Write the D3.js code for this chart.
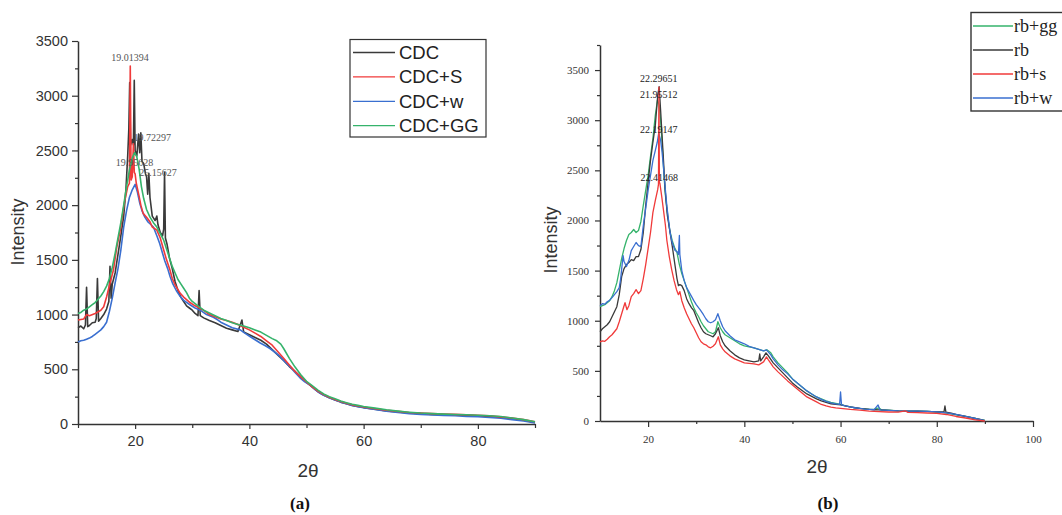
<!DOCTYPE html>
<html><head><meta charset="utf-8">
<script src="https://cdn.jsdelivr.net/npm/d3@7"></script>
<style>body{margin:0;background:#fff}svg{display:block}</style>
</head><body><svg id="c" width="1062" height="515"></svg>
<script>
// ---------- Panel (a) data: [2theta, intensity] ----------
const aNames = ["CDC","CDC+S","CDC+w","CDC+GG"];
const aColors = ["#3a3a3a","#f03a3a","#3a6fd0","#35b36b"];
const aCDC = [[10,880],[10.5,895],[11,870],[11.3,905],[11.5,1250],[11.7,890],[12,900],[12.5,925],[13,930],[13.2,965],[13.4,1330],[13.6,940],[14,965],[14.5,1000],[15,1050],[15.4,1120],[15.6,1440],[15.8,1150],[16,1280],[16.5,1380],[17,1550],[17.5,1720],[18,1900],[18.4,2150],[18.7,2450],[18.9,2700],[19.05,3120],[19.2,2550],[19.5,2600],[19.7,2550],[19.85,3140],[20,2500],[20.3,2450],[20.6,2650],[20.8,2480],[21,2660],[21.2,2400],[21.5,2380],[21.8,2290],[22,2260],[22.2,2100],[22.4,2290],[22.6,2070],[23,1900],[23.5,1860],[23.8,1900],[24,1820],[24.4,1750],[24.8,1720],[25,1780],[25.15,2300],[25.3,1700],[25.6,1640],[26,1520],[26.5,1420],[27,1300],[27.5,1220],[28,1160],[28.5,1120],[29,1080],[29.5,1060],[30,1040],[30.5,1010],[31,990],[31.2,1220],[31.4,990],[32,970],[33,945],[34,925],[35,900],[36,875],[37,860],[38,845],[38.7,950],[39,840],[40,815],[41,790],[42,765],[43,730],[44,680],[45,630],[46,580],[47,525],[48,480],[49,430],[50,380],[51,340],[52,295],[53,265],[54,240],[55,220],[56,200],[57,185],[58,170],[59,160],[60,150],[62,135],[64,120],[66,110],[68,100],[70,95],[72,88],[74,85],[76,82],[78,78],[80,75],[82,70],[84,62],[86,50],[88,35],[90,15]];
const aS = [[10,950],[11,960],[11.5,1000],[12,990],[13,1010],[14,1040],[14.5,1072],[15,1160],[15.6,1286],[16.2,1407],[16.8,1620],[17.4,1773],[18.1,2016],[18.7,2169],[19,2200],[19.15,3272],[19.3,2230],[19.5,2260],[19.7,2560],[19.85,2300],[20,2285],[20.2,2200],[20.7,2080],[21,2000],[21.4,1925],[22,1890],[22.6,1848],[23,1800],[23.8,1772],[24.4,1700],[25,1590],[25.5,1500],[26.1,1407],[26.5,1330],[27,1270],[27.9,1194],[28.5,1160],[29.6,1110],[30.5,1080],[31.9,1042],[33,1000],[34,980],[35,960],[36,945],[37,930],[38,910],[39,885],[40,860],[41,830],[42,800],[43,760],[44,720],[45,660],[46,600],[47,540],[48,480],[49,430],[50,385],[51,340],[52,300],[53,270],[54,245],[55,225],[56,205],[57,190],[58,175],[59,165],[60,155],[62,140],[64,125],[66,115],[68,105],[70,100],[72,95],[74,92],[76,88],[78,85],[80,80],[82,75],[84,65],[86,55],[88,40],[90,20]];
const aW = [[10,750],[10.5,760],[11,765],[11.5,775],[12,785],[12.5,800],[13,820],[13.5,840],[14,860],[14.5,890],[15,930],[15.5,1030],[16,1150],[16.5,1290],[17,1420],[17.5,1590],[18,1800],[18.5,1950],[19,2070],[19.5,2140],[20,2190],[20.4,2120],[20.8,2020],[21.2,1950],[21.7,1890],[22.2,1850],[22.6,1830],[23.2,1800],[23.8,1720],[24.3,1650],[24.8,1560],[25.2,1490],[25.7,1420],[26.1,1350],[26.6,1280],[27.2,1220],[27.9,1165],[28.5,1130],[29.6,1090],[30.5,1060],[31.4,1040],[32.5,1000],[33.7,975],[34.5,950],[35,930],[36,905],[37,880],[38.4,860],[39.2,830],[40.1,800],[41,770],[41.9,740],[42.8,715],[43.6,690],[44.5,655],[45.4,615],[46.2,570],[47.1,525],[48,470],[48.9,420],[49.7,385],[50.6,355],[51.5,315],[52.4,280],[53,262],[54,240],[55,220],[56,200],[57,185],[58,170],[59,158],[60,148],[62,132],[64,118],[66,105],[68,95],[70,88],[72,82],[74,78],[76,75],[78,70],[80,66],[82,60],[84,52],[86,40],[88,28],[90,10]];
const aGG = [[10,1010],[10.5,1020],[11,1040],[11.5,1050],[12,1070],[12.5,1090],[13,1110],[13.5,1140],[14,1170],[14.5,1210],[15,1260],[15.5,1330],[16,1430],[16.5,1560],[17,1700],[17.5,1840],[18,2000],[18.5,2170],[19,2320],[19.5,2430],[19.9,2480],[20.3,2440],[20.7,2330],[21.1,2170],[21.5,2060],[22,1960],[22.6,1890],[23.2,1840],[23.8,1800],[24.4,1740],[25,1680],[25.5,1600],[26,1520],[26.5,1440],[27,1380],[27.5,1320],[28,1280],[28.5,1240],[29,1200],[29.5,1150],[30,1120],[31,1080],[32,1040],[33,1015],[34,990],[35,965],[36,945],[37,925],[38,910],[39,895],[40,880],[41,860],[42,840],[43,810],[44,780],[44.8,760],[45.5,730],[46,690],[47,600],[48,520],[49,450],[50,390],[51,350],[52,310],[53,275],[54,250],[55,230],[56,210],[57,195],[58,180],[59,170],[60,160],[62,145],[64,130],[66,118],[68,108],[70,100],[72,95],[74,90],[76,87],[78,85],[80,80],[82,75],[84,68],[86,55],[88,40],[90,20]];
const aPeakLabels = ["19.01394","19.72297","19.95628","25.15627"];
const aPeakPos = [[19.1,3313],[23.0,2586],[19.9,2358],[24.0,2266]];
const aYTicks = [0,500,1000,1500,2000,2500,3000,3500];
const aXTicks = [20,40,60,80];

// ---------- Panel (b) data ----------
const bNames = ["rb+gg","rb","rb+s","rb+w"];
const bColors = ["#35b36b","#3a3a3a","#f03a3a","#3a6fd0"];
const bGG = [[10,1140],[11,1160],[12,1200],[12.5,1240],[13,1300],[13.5,1380],[14,1500],[14.5,1620],[15,1720],[15.5,1800],[16,1860],[16.5,1880],[17,1910],[17.5,1880],[18,1900],[18.5,1990],[19,2150],[19.5,2300],[20,2450],[20.5,2640],[21,2820],[21.5,3050],[21.95,3200],[22.3,3150],[22.6,3000],[23,2700],[23.3,2450],[23.6,2250],[24,2080],[24.5,1900],[25,1800],[25.5,1730],[26,1680],[26.5,1560],[27,1470],[27.5,1400],[28,1330],[28.5,1260],[29,1190],[29.5,1130],[30,1080],[30.5,1040],[31,990],[31.5,950],[32,920],[32.5,890],[33,880],[33.5,870],[34,890],[34.5,990],[35,930],[35.5,890],[36,860],[37,830],[38,800],[39,770],[40,750],[41,740],[42,730],[43,715],[44,700],[44.7,710],[45.5,680],[46,640],[47,580],[48,530],[49,480],[50,420],[51,380],[52,340],[53,300],[54,270],[55,240],[56,220],[57,200],[58,185],[59,175],[60,165],[61,150],[62,140],[63,130],[64,125],[65,120],[66,115],[67,118],[68,130],[68.5,112],[70,108],[72,100],[74,98],[76,97],[78,95],[80,90],[81,85],[82,78],[84,62],[86,45],[88,25],[90,5]];
const bRB = [[10,890],[10.5,920],[11,940],[11.5,960],[12,990],[12.5,1040],[13,1090],[13.5,1140],[14,1260],[14.5,1440],[15,1520],[15.5,1560],[16,1580],[16.5,1610],[17,1600],[17.5,1640],[18,1640],[18.5,1710],[19,1880],[19.5,2150],[20,2380],[20.5,2600],[21,2780],[21.5,2950],[22,3250],[22.3,3334],[22.6,3100],[22.9,2850],[23.2,2600],[23.5,2330],[24,2050],[24.6,1870],[25,1750],[25.6,1550],[26,1420],[26.3,1350],[26.6,1360],[27,1350],[27.5,1300],[28,1220],[28.5,1170],[29,1130],[29.5,1100],[30,1040],[30.5,980],[31,930],[31.5,890],[32,870],[33,850],[33.5,840],[34,870],[34.6,930],[35,850],[35.5,790],[36,750],[37,700],[38,660],[39,630],[40,610],[41,600],[42,590],[43,600],[43.2,670],[43.4,600],[44,640],[44.5,680],[45,650],[46,580],[47,530],[48,480],[49,430],[50,380],[51,340],[52,305],[53,270],[54,245],[55,220],[56,200],[57,185],[58,172],[59,165],[60,160],[61,150],[62,140],[63,132],[64,125],[65,120],[66,115],[67,112],[68,110],[70,105],[72,100],[74,98],[76,97],[78,95],[80,92],[81.5,90],[81.7,150],[81.9,88],[83,78],[84,65],[86,45],[88,25],[90,3]];
const bS = [[10,790],[10.5,800],[11,795],[11.5,815],[12,840],[12.5,860],[13,890],[13.5,920],[14,990],[14.5,1070],[15,1150],[15.2,1180],[15.6,1110],[16,1150],[16.5,1240],[17,1270],[17.5,1310],[18,1270],[18.5,1300],[19,1420],[19.5,1560],[20,1720],[20.5,1880],[21,2080],[21.5,2200],[22,2310],[22.15,2360],[22.25,3330],[22.35,2380],[22.45,2370],[22.8,2250],[23.2,2100],[23.6,1950],[23.9,1800],[24.4,1640],[24.9,1510],[25.4,1400],[25.9,1310],[26.3,1260],[26.6,1290],[27,1200],[27.5,1130],[28,1070],[28.5,1020],[29,970],[29.5,930],[30,880],[30.5,830],[31,790],[31.5,770],[32,760],[32.5,740],[33,730],[33.5,745],[34,770],[34.6,840],[35,760],[35.5,720],[36,690],[37,650],[38,620],[39,600],[40,580],[41,575],[42,570],[43,560],[43.5,575],[44,590],[44.6,640],[45,610],[46,540],[47,490],[48,445],[49,400],[50,360],[51,320],[52,280],[53,240],[54,215],[55,190],[56,165],[57,150],[58,138],[59,130],[60,125],[62,115],[64,108],[66,98],[68,93],[70,90],[72,88],[73.5,100],[74,86],[76,84],[78,80],[80,76],[82,65],[84,45],[86,30],[88,12],[90,0]];
const bW = [[10,1150],[10.5,1170],[11,1165],[11.5,1190],[12,1205],[12.5,1230],[13,1260],[13.5,1290],[14,1330],[14.3,1420],[14.6,1560],[14.8,1650],[15,1590],[15.5,1540],[16,1600],[16.5,1700],[17,1740],[17.5,1780],[18,1750],[18.5,1740],[19,1950],[19.5,2120],[20,2300],[20.5,2450],[21,2600],[21.5,2700],[21.9,2780],[22.2,2870],[22.6,2800],[22.9,2680],[23.2,2530],[23.6,2300],[23.9,2140],[24.3,1980],[24.6,1870],[25,1780],[25.6,1700],[26,1690],[26.3,1660],[26.5,1850],[26.6,1660],[27,1500],[27.5,1400],[28,1330],[28.7,1270],[29.5,1200],[30,1160],[30.8,1110],[31.5,1060],[32,1020],[32.5,990],[33,980],[33.5,990],[34,1010],[34.5,1070],[35,1000],[35.5,940],[36,900],[37,850],[38,810],[39,790],[40,770],[41,745],[42,730],[43,715],[44,700],[44.6,710],[45.5,660],[46,620],[47,560],[48,510],[49,470],[50,420],[51,380],[52,340],[53,300],[54,270],[55,240],[56,215],[57,195],[58,180],[59,170],[59.8,165],[60,290],[60.2,160],[61,150],[62,140],[63,132],[64,125],[65,118],[66,115],[67,112],[67.8,160],[68.2,110],[70,105],[72,100],[74,98],[76,98],[78,95],[80,92],[82,82],[84,65],[86,45],[88,25],[90,3]];
const bPeakLabels = ["22.29651","21.95512","22.19147","22.41468"];
const bPeakPos = [[22.2,3385],[22.2,3220],[22.2,2870],[22.3,2390]];
const bYTicks = [0,500,1000,1500,2000,2500,3000,3500];
const bXTicks = [20,40,60,80,100];

const svg = d3.select("#c");
const SANS = "'Liberation Sans', Arial, sans-serif";
const SERIF = "'Liberation Serif', 'Times New Roman', serif";
const AX = "#333";
const fmt = d3.format("d");

function range(a,b,s){const r=[];for(let v=a;v<=b+1e-9;v+=s)r.push(v);return r;}

// ---------- Panel (a) ----------
const xA = d3.scaleLinear().domain([10,90]).range([78,535]);
const yA = d3.scaleLinear().domain([0,3500]).range([424,41]);
const gA = svg.append("g");

function styleAxis(g, font, size){
  g.selectAll("path.domain").attr("stroke",AX).attr("stroke-width",1.5);
  g.selectAll(".tick line").attr("stroke",AX).attr("stroke-width",1.2);
  g.selectAll(".tick text").attr("fill","#333").style("font-family",font).style("font-size",size+"px");
}

gA.append("g").attr("transform","translate(78,0)")
  .call(d3.axisLeft(yA).tickValues(range(250,3250,500)).tickSize(3).tickFormat(""))
  .call(g=>{g.select(".domain").remove();g.selectAll(".tick line").attr("stroke",AX).attr("stroke-width",1.2);});
gA.append("g").attr("transform","translate(0,424)")
  .call(d3.axisBottom(xA).tickValues([10,30,50,70,90]).tickSize(4).tickFormat(""))
  .call(g=>{g.select(".domain").remove();g.selectAll(".tick line").attr("stroke",AX).attr("stroke-width",1.2);});
gA.append("g").attr("transform","translate(78,0)")
  .call(d3.axisLeft(yA).tickValues(aYTicks).tickFormat(fmt).tickSize(6).tickSizeOuter(0).tickPadding(4))
  .call(g=>styleAxis(g,SANS,14.5));
gA.append("g").attr("transform","translate(0,424)")
  .call(d3.axisBottom(xA).tickValues(aXTicks).tickFormat(fmt).tickSize(5).tickSizeOuter(0).tickPadding(7))
  .call(g=>styleAxis(g,SANS,14.5));

const lineA = d3.line().x(d=>xA(d[0])).y(d=>yA(d[1]));
const aData = [aCDC,aS,aW,aGG];
[0,2,1,3].forEach(i=>{
  gA.append("path").datum(aData[i]).attr("d",lineA).attr("fill","none")
    .attr("stroke",aColors[i]).attr("stroke-width",1.6).attr("stroke-linejoin","round");
});
aPeakLabels.forEach((t,i)=>{
  gA.append("text").attr("x",xA(aPeakPos[i][0])).attr("y",yA(aPeakPos[i][1]))
    .attr("text-anchor","middle").style("font-family",SERIF).style("font-size","10px")
    .attr("fill","#555").text(t);
});
gA.append("text").attr("transform","translate(24,232) rotate(-90)").attr("text-anchor","middle")
  .style("font-family",SANS).style("font-size","18px").attr("fill","#333").text("Intensity");
gA.append("text").attr("x",308).attr("y",477).attr("text-anchor","middle")
  .style("font-family",SANS).style("font-size","19px").attr("fill","#333").text("2θ");
gA.append("text").attr("x",300).attr("y",509).attr("text-anchor","middle")
  .style("font-family",SERIF).style("font-size","17px").style("font-weight","bold").attr("fill","#111").text("(a)");
const legA = gA.append("g");
legA.append("rect").attr("x",350).attr("y",39.5).attr("width",136).attr("height",97.5)
  .attr("fill","#fff").attr("stroke","#333").attr("stroke-width",1.2);
aNames.forEach((n,i)=>{
  const y = 52.5 + i*24.4;
  legA.append("line").attr("x1",353).attr("x2",395).attr("y1",y).attr("y2",y).attr("stroke",aColors[i]).attr("stroke-width",1.3);
  legA.append("text").attr("x",399).attr("y",y+6.5).style("font-family",SANS).style("font-size","18.5px").attr("fill","#222").text(n);
});

// ---------- Panel (b) ----------
const xB = d3.scaleLinear().domain([10,100]).range([600,1033]);
const yB = d3.scaleLinear().domain([0,3750]).range([421,45]);
const gB = svg.append("g");
gB.append("g").attr("transform","translate(600,0)")
  .call(d3.axisLeft(yB).tickValues(range(250,3750,500)).tickSize(3).tickFormat(""))
  .call(g=>{g.select(".domain").remove();g.selectAll(".tick line").attr("stroke",AX).attr("stroke-width",1.2);});
gB.append("g").attr("transform","translate(0,421)")
  .call(d3.axisBottom(xB).tickValues([30,50,70,90]).tickSize(3).tickFormat(""))
  .call(g=>{g.select(".domain").remove();g.selectAll(".tick line").attr("stroke",AX).attr("stroke-width",1.2);});
gB.append("g").attr("transform","translate(600,0)")
  .call(d3.axisLeft(yB).tickValues(bYTicks).tickFormat(fmt).tickSize(5).tickSizeOuter(0).tickPadding(6))
  .call(g=>styleAxis(g,SERIF,11));
gB.append("g").attr("transform","translate(0,421)")
  .call(d3.axisBottom(xB).tickValues(bXTicks).tickFormat(fmt).tickSize(6).tickSizeOuter(0).tickPadding(8))
  .call(g=>styleAxis(g,SERIF,11));

const lineB = d3.line().x(d=>xB(d[0])).y(d=>yB(d[1]));
const bData = [bGG,bRB,bS,bW];
[0,1,3,2].forEach(i=>{
  gB.append("path").datum(bData[i]).attr("d",lineB).attr("fill","none")
    .attr("stroke",bColors[i]).attr("stroke-width",1.3).attr("stroke-linejoin","round");
});
bPeakLabels.forEach((t,i)=>{
  gB.append("text").attr("x",xB(bPeakPos[i][0])).attr("y",yB(bPeakPos[i][1]))
    .attr("text-anchor","middle").style("font-family",SERIF).style("font-size","10px")
    .attr("fill","#222").text(t);
});
gB.append("text").attr("transform","translate(557,240) rotate(-90)").attr("text-anchor","middle")
  .style("font-family",SANS).style("font-size","18px").attr("fill","#333").text("Intensity");
gB.append("text").attr("x",817).attr("y",473).attr("text-anchor","middle")
  .style("font-family",SANS).style("font-size","19px").attr("fill","#333").text("2θ");
gB.append("text").attr("x",828).attr("y",509).attr("text-anchor","middle")
  .style("font-family",SERIF).style("font-size","17px").style("font-weight","bold").attr("fill","#111").text("(b)");
const legB = gB.append("g");
legB.append("rect").attr("x",971).attr("y",12.5).attr("width",100).attr("height",98.5)
  .attr("fill","#fff").attr("stroke","#333").attr("stroke-width",1.4);
bNames.forEach((n,i)=>{
  const y = 26 + i*24;
  legB.append("line").attr("x1",973).attr("x2",1013).attr("y1",y).attr("y2",y).attr("stroke",bColors[i]).attr("stroke-width",1.3);
  legB.append("text").attr("x",1014).attr("y",y+5.5).style("font-family",SERIF).style("font-size","18px").attr("fill","#222").text(n);
});
</script></body></html>
